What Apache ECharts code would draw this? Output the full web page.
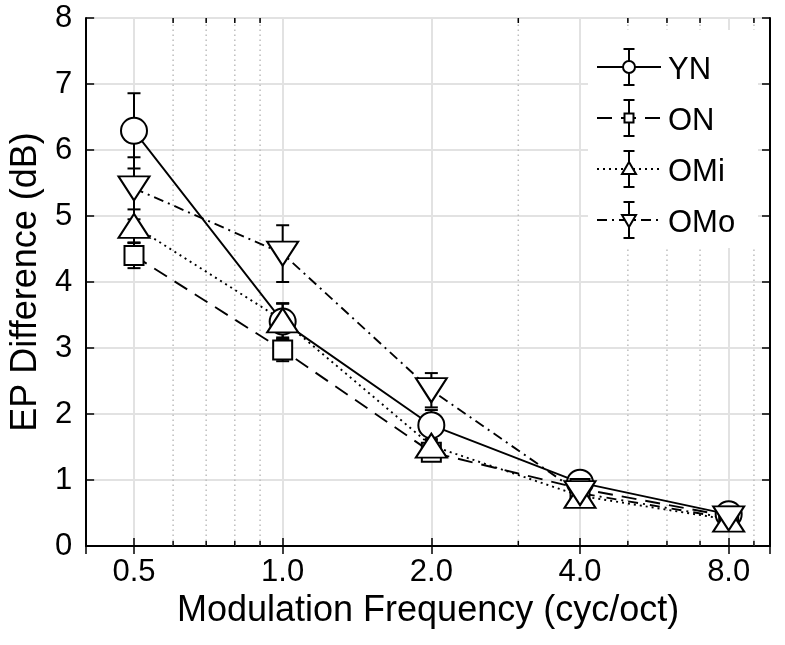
<!DOCTYPE html>
<html><head><meta charset="utf-8">
<script src="https://cdn.jsdelivr.net/npm/echarts@6/dist/echarts.min.js"></script>
<style>html,body{margin:0;padding:0;background:#fff}#c{width:785px;height:645px}</style>
</head><body><div id="c"></div>
<script>
const freqs = [0.5, 1, 2, 4, 8];
const xTickLabels = ['0.5', '1.0', '2.0', '4.0', '8.0'];
const xMinorTicks = [0.6, 0.7, 0.8, 0.9, 3, 5, 6, 7, 9];
const seriesNames = ['YN', 'ON', 'OMi', 'OMo'];
const yn = [6.29, 3.40, 1.83, 0.96, 0.48];
const ynErr = [0.57, 0.27, 0.23, 0.05, 0.04];
const on = [4.40, 2.97, 1.42, 0.87, 0.45];
const onErr = [0.19, 0.17, 0.07, 0.05, 0.04];
const omi = [4.85, 3.42, 1.52, 0.76, 0.40];
const omiErr = [0.25, 0.26, 0.10, 0.05, 0.04];
const omo = [5.42, 4.43, 2.36, 0.80, 0.42];
const omoErr = [0.47, 0.43, 0.26, 0.08, 0.05];
const yMin = 0, yMax = 8, yStep = 1;

const FONT = '"Liberation Sans", Arial, sans-serif';
const values = [yn, on, omi, omo];
const errs = [ynErr, onErr, omiErr, omoErr];
const dashes = ['solid', [15, 9], [2, 4], [10, 5, 2, 5]];
const symbols = ['circle', 'rect', 'triangle', 'triangle'];
const symSizes = [26, 19, [31, 24], [31, 24]];
const symRot = [0, 0, 0, 180];

function xLabel(v) {
  for (let i = 0; i < freqs.length; i++) if (Math.abs(v - freqs[i]) < 1e-6) return xTickLabels[i];
  return '';
}
function errRender(params, api) {
  const x = api.value(0);
  const lo = api.coord([x, api.value(1)]);
  const hi = api.coord([x, api.value(2)]);
  const w = 6.5, st = {stroke: '#000', lineWidth: 2};
  return {type: 'group', children: [
    {type: 'line', shape: {x1: lo[0], y1: lo[1], x2: hi[0], y2: hi[1]}, style: st},
    {type: 'line', shape: {x1: lo[0] - w, y1: lo[1], x2: lo[0] + w, y2: lo[1]}, style: st},
    {type: 'line', shape: {x1: hi[0] - w, y1: hi[1], x2: hi[0] + w, y2: hi[1]}, style: st}
  ]};
}
function minorRender(params, api) {
  const x = api.value(0);
  const b = api.coord([x, yMin]);
  const t = api.coord([x, yMax]);
  const tk = {stroke: '#000', lineWidth: 1.5};
  return {type: 'group', children: [
    {type: 'line', shape: {x1: b[0], y1: b[1], x2: t[0], y2: t[1]}, style: {stroke: '#bdbdbd', lineWidth: 1.5, lineDash: [1.5, 3.5]}},
    {type: 'line', shape: {x1: b[0], y1: b[1], x2: b[0], y2: b[1] - 5}, style: tk},
    {type: 'line', shape: {x1: t[0], y1: t[1], x2: t[0], y2: t[1] + 5}, style: tk}
  ]};
}

const series = [{
  type: 'custom', name: 'minor', z: 1, silent: true, renderItem: minorRender,
  encode: {x: 0}, data: xMinorTicks.map(v => [v]), clip: false
}];
values.forEach((vals, k) => {
  series.push({
    type: 'custom', name: seriesNames[k] + ' err', z: 3, silent: true, renderItem: errRender,
    encode: {x: 0, y: [1, 2]},
    data: freqs.map((f, i) => [f, vals[i] - errs[k][i], vals[i] + errs[k][i]])
  });
});
values.forEach((vals, k) => {
  series.push({
    type: 'line', name: seriesNames[k], z: 4, symbol: 'none', silent: true,
    lineStyle: {color: '#000', width: 1.9, type: dashes[k]},
    data: freqs.map((f, i) => [f, vals[i]])
  });
});
values.forEach((vals, k) => {
  series.push({
    type: 'scatter', name: seriesNames[k] + ' mk', z: 5, silent: true,
    symbol: symbols[k], symbolSize: symSizes[k], symbolRotate: symRot[k],
    itemStyle: {color: '#fff', borderColor: '#000', borderWidth: 2, opacity: 1},
    data: freqs.map((f, i) => [f, vals[i]])
  });
});

// legend drawn as graphic
const legend = [{type: 'rect', shape: {x: 588, y: 30, width: 170, height: 218}, style: {fill: '#fff'}, z: 50}];
const lx0 = 597, lx1 = 661, lmx = 629, ly0 = 67, lstep = 51;
seriesNames.forEach((nm, k) => {
  const y = ly0 + k * lstep;
  const st = {stroke: '#000', lineWidth: 2};
  legend.push({type: 'line', z: 51, shape: {x1: lx0, y1: y, x2: lx1, y2: y},
    style: {stroke: '#000', lineWidth: 1.9, lineDash: dashes[k] === 'solid' ? null : dashes[k]}});
  legend.push({type: 'line', z: 52, shape: {x1: lmx, y1: y - 18, x2: lmx, y2: y + 18}, style: st});
  legend.push({type: 'line', z: 52, shape: {x1: lmx - 5.5, y1: y - 18, x2: lmx + 5.5, y2: y - 18}, style: st});
  legend.push({type: 'line', z: 52, shape: {x1: lmx - 5.5, y1: y + 18, x2: lmx + 5.5, y2: y + 18}, style: st});
  const ms = {fill: '#fff', stroke: '#000', lineWidth: 2};
  if (k === 0) legend.push({type: 'circle', z: 53, shape: {cx: lmx, cy: y, r: 6}, style: ms});
  if (k === 1) legend.push({type: 'rect', z: 53, shape: {x: lmx - 4.5, y: y - 4.5, width: 9, height: 9}, style: ms});
  if (k === 2) legend.push({type: 'polygon', z: 53, shape: {points: [[lmx - 7, y + 5], [lmx + 7, y + 5], [lmx, y - 7]]}, style: ms});
  if (k === 3) legend.push({type: 'polygon', z: 53, shape: {points: [[lmx - 7, y - 5], [lmx + 7, y - 5], [lmx, y + 7]]}, style: ms});
  legend.push({type: 'text', z: 53, x: 668, y: y + 3,
    style: {text: nm, font: '31px ' + FONT, fill: '#000', textVerticalAlign: 'middle', verticalAlign: 'middle'}});
});

const axisLine = {show: true, lineStyle: {color: '#000', width: 2}};
const tick = {show: true, inside: true, length: 8, lineStyle: {color: '#000', width: 1.5}};
const chart = echarts.init(document.getElementById('c'), null, {renderer: 'canvas'});
chart.setOption({
  animation: false,
  backgroundColor: '#fff',
  grid: {left: 85, right: 15, top: 18, bottom: 99, containLabel: false},
  xAxis: [{
    type: 'log', logBase: 2, min: 0.4, max: 9.7, position: 'bottom',
    name: 'Modulation Frequency (cyc/oct)', nameLocation: 'middle', nameGap: 46,
    nameTextStyle: {fontFamily: FONT, fontSize: 36, color: '#000'},
    axisLine, axisTick: tick,
    axisLabel: {formatter: xLabel, fontFamily: FONT, fontSize: 31, color: '#000', margin: 11, showMinLabel: false, showMaxLabel: false},
    splitLine: {show: true, lineStyle: {color: '#e2e2e2', width: 2}},
    minorTick: {show: false}, minorSplitLine: {show: false}
  }, {
    type: 'log', logBase: 2, min: 0.4, max: 9.7, position: 'top',
    axisLine, axisTick: tick, axisLabel: {show: false}, splitLine: {show: false}
  }],
  yAxis: [{
    type: 'value', min: yMin, max: yMax, interval: yStep, position: 'left',
    name: 'EP Difference (dB)', nameLocation: 'middle', nameGap: 37,
    nameTextStyle: {fontFamily: FONT, fontSize: 36, color: '#000'},
    axisLine, axisTick: tick,
    axisLabel: {fontFamily: FONT, fontSize: 31, color: '#000', margin: 14},
    splitLine: {show: true, lineStyle: {color: '#e2e2e2', width: 2}}
  }, {
    type: 'value', min: yMin, max: yMax, interval: yStep, position: 'right',
    axisLine, axisTick: tick, axisLabel: {show: false}, splitLine: {show: false}
  }],
  series,
  graphic: {elements: legend}
});
</script></body></html>
